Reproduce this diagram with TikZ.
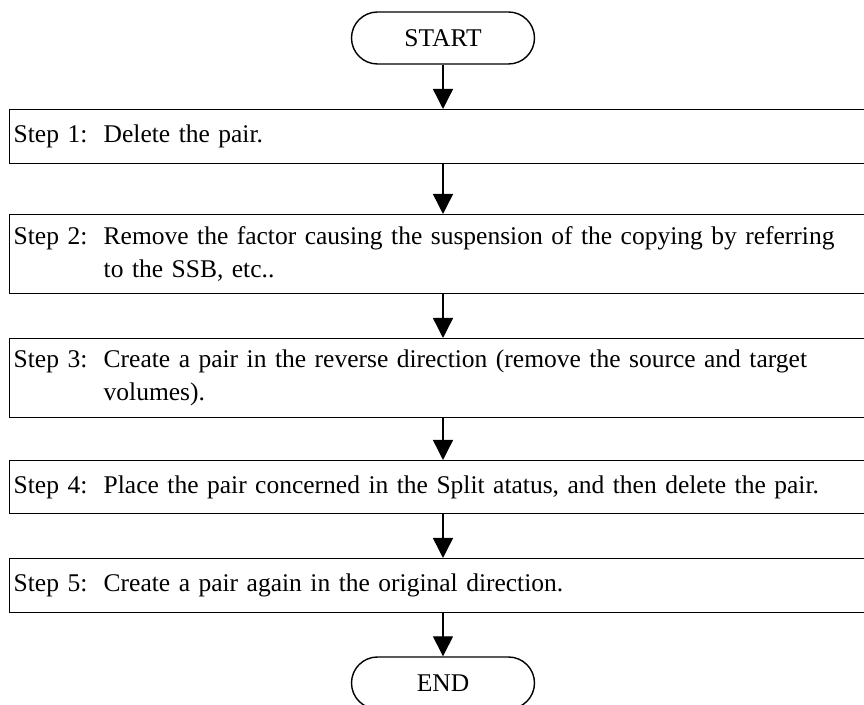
\documentclass[tikz,border=0pt]{standalone}
\usepackage{fontspec}
\setmainfont{Liberation Serif}
\usetikzlibrary{arrows.meta,shapes.misc}

\tikzset{
  stepbox/.style={draw,line width=0.7pt,anchor=north west,minimum width=450pt,
    text width=446pt,inner xsep=1.5pt,inner ysep=0pt,align=left,
    font=\fontsize{12.75}{16.5}\selectfont},
  term/.style={draw,rounded rectangle,line width=0.7pt,minimum width=91.5pt,
    minimum height=26pt,inner sep=0pt,font=\fontsize{12.75}{16.5}\selectfont},
  flow/.style={-{Triangle[length=10pt,width=10pt]},line width=0.7pt}
}
\newcommand{\steplabel}[1]{\makebox[45pt][l]{#1}}

\begin{document}
\begin{tikzpicture}[x=0.5pt,y=-0.5pt]
  \clip (0,0) rectangle (864,705);
  \useasboundingbox (0,0) rectangle (864,705);
  \node[term] (start) at (443,38){START};
  \node[stepbox,minimum height=27pt] (s1) at (9,109){\steplabel{Step 1:}Delete the pair.};
  \node[stepbox,minimum height=39.5pt] (s2) at (9,214){\steplabel{Step 2:}Remove the factor causing the suspension of the copying by referring\\
    \steplabel{}to the SSB, etc..};
  \node[stepbox,minimum height=39.5pt] (s3) at (9,338){\steplabel{Step 3:}Create a pair in the reverse direction (remove the source and target\\
    \steplabel{}volumes).};
  \node[stepbox,minimum height=26.5pt] (s4) at (9,460){\steplabel{Step 4:}Place the pair concerned in the Split atatus, and then delete the pair.};
  \node[stepbox,minimum height=27pt] (s5) at (9,558){\steplabel{Step 5:}Create a pair again in the original direction.};
  \node[term] (end) at (443,683){END};
  \draw[flow] (start.south) -- (start.south |- s1.north);
  \draw[flow] (start |- s1.south) -- (start |- s2.north);
  \draw[flow] (start |- s2.south) -- (start |- s3.north);
  \draw[flow] (start |- s3.south) -- (start |- s4.north);
  \draw[flow] (start |- s4.south) -- (start |- s5.north);
  \draw[flow] (start |- s5.south) -- (end.north);
\end{tikzpicture}
\end{document}
